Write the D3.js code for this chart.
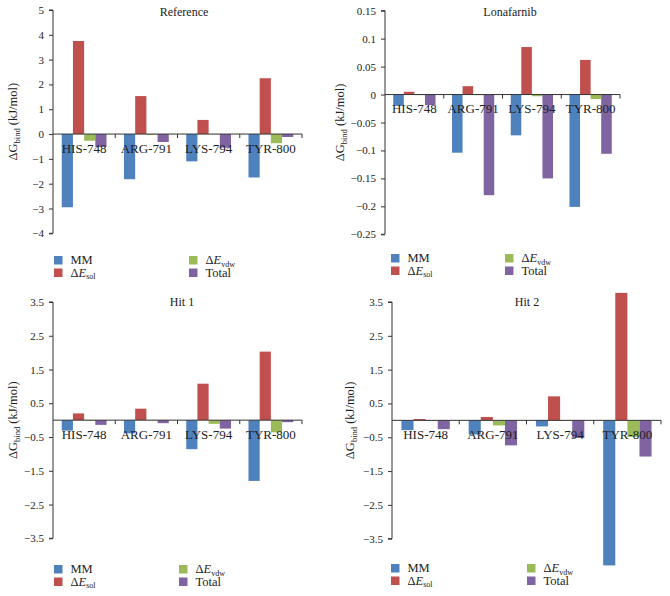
<!DOCTYPE html>
<html>
<head>
<meta charset="utf-8">
<script src="https://cdn.jsdelivr.net/npm/d3@7"></script>
<style>
  html, body { margin: 0; padding: 0; background: #fff; }
  svg { display: block; }
  text { font-family: "Liberation Serif", "DejaVu Serif", serif; fill: #222; }
</style>
</head>
<body>
<script>
// ---------- DATA ----------
const categories = ["HIS-748", "ARG-791", "LYS-794", "TYR-800"];
const seriesKeys = ["MM", "Esol", "Evdw", "Total"];
const seriesColors = ["#4F81BD", "#C0504D", "#9BBB59", "#8064A2"];

// Reference
const refMM    = [-2.95, -1.82, -1.10, -1.75];
const refSol   = [ 3.75,  1.53,  0.57,  2.25];
const refVdw   = [-0.27, -0.03, -0.01, -0.37];
const refTotal = [-0.52, -0.32, -0.55, -0.12];

// Lonafarnib
const lonMM    = [-0.020, -0.104, -0.073, -0.201];
const lonSol   = [ 0.005,  0.015,  0.085,  0.062];
const lonVdw   = [-0.001, -0.001, -0.003, -0.008];
const lonTotal = [-0.019, -0.180, -0.150, -0.106];

// Hit 1
const hit1MM    = [-0.31, -0.39, -0.86, -1.80];
const hit1Sol   = [ 0.20,  0.34,  1.08,  2.03];
const hit1Vdw   = [-0.02, -0.01, -0.11, -0.36];
const hit1Total = [-0.14, -0.09, -0.25, -0.06];

// Hit 2
const hit2MM    = [-0.29, -0.42, -0.18, -4.29];
const hit2Sol   = [ 0.04,  0.10,  0.71,  3.77];
const hit2Vdw   = [-0.02, -0.15, -0.02, -0.49];
const hit2Total = [-0.26, -0.74, -0.52, -1.07];

const refTicks  = [5, 4, 3, 2, 1, 0, -1, -2, -3, -4];
const lonTicks  = [0.15, 0.1, 0.05, 0, -0.05, -0.1, -0.15, -0.2, -0.25];
const hitTicks  = [3.5, 2.5, 1.5, 0.5, -0.5, -1.5, -2.5, -3.5];

// ---------- LAYOUT ----------
const W = 670, H = 596;
const svg = d3.select("body").append("svg").attr("width", W).attr("height", H);

const panels = [
  { title: "Reference", data: [refMM, refSol, refVdw, refTotal], ticks: refTicks,
    domain: [-4, 5], ax: 53, xEnd: 302, yTopPx: 10, yBotPx: 233.3,
    titleX: 184, titleY: 16, labX: 17, legX: 54, legX2: 189, legY: 256 },
  { title: "Lonafarnib", data: [lonMM, lonSol, lonVdw, lonTotal], ticks: lonTicks,
    domain: [-0.25, 0.15], ax: 385, xEnd: 620, yTopPx: 10.7, yBotPx: 234.3,
    titleX: 510, titleY: 16, labX: 344, legX: 391, legX2: 505, legY: 254 },
  { title: "Hit 1", data: [hit1MM, hit1Sol, hit1Vdw, hit1Total], ticks: hitTicks,
    domain: [-3.5, 3.5], ax: 53, xEnd: 302, yTopPx: 302, yBotPx: 538.3,
    titleX: 182, titleY: 306, labX: 17, legX: 54, legX2: 179, legY: 565 },
  { title: "Hit 2", data: [hit2MM, hit2Sol, hit2Vdw, hit2Total], ticks: hitTicks,
    domain: [-3.5, 3.5], ax: 392, xEnd: 661, yTopPx: 302, yBotPx: 538.7,
    titleX: 527, titleY: 306, labX: 354, legX: 391, legX2: 527, legY: 564 }
];

function fmt(v) {
  const s = String(+v.toFixed(3));
  return v < 0 ? "\u2212" + s.slice(1) : s;
}

panels.forEach(p => {
  const g = svg.append("g");
  const y = d3.scaleLinear().domain(p.domain).range([p.yBotPx, p.yTopPx]);
  const x0 = d3.scaleBand().domain(categories).range([p.ax, p.xEnd]).padding(0);
  const x1 = d3.scaleBand().domain(seriesKeys).range([0, x0.bandwidth()])
    .paddingInner(0).paddingOuter(0.78);
  const y0 = y(0);

  // bars
  categories.forEach((c, ci) => {
    seriesKeys.forEach((k, si) => {
      const v = p.data[si][ci];
      g.append("rect")
        .attr("x", x0(c) + x1(k))
        .attr("y", Math.min(y(v), y0))
        .attr("width", x1.bandwidth())
        .attr("height", Math.abs(y(v) - y0))
        .attr("fill", seriesColors[si]);
    });
  });

  // y axis
  const yAxis = d3.axisLeft(y).tickValues(p.ticks).tickSize(4).tickPadding(5).tickFormat(fmt);
  const ya = g.append("g").attr("transform", `translate(${p.ax},0)`).call(yAxis);
  ya.select(".domain").attr("stroke", "#333").attr("d", `M-4,${p.yTopPx}H0V${p.yBotPx}H-4`);
  ya.selectAll(".tick line").attr("stroke", "#333");
  ya.selectAll(".tick text").attr("font-size", 11).attr("fill", "#222")
    .style("font-family", '"Liberation Serif", serif');

  // x axis line at zero with category ticks
  g.append("line").attr("x1", p.ax).attr("x2", p.xEnd).attr("y1", y0).attr("y2", y0)
    .attr("stroke", "#333");
  categories.forEach(c => {
    const xe = x0(c) + x0.bandwidth();
    g.append("line").attr("x1", xe).attr("x2", xe).attr("y1", y0).attr("y2", y0 + 4)
      .attr("stroke", "#333");
    g.append("text").attr("x", x0(c) + x0.bandwidth() / 2).attr("y", y0 + 18.5)
      .attr("text-anchor", "middle").attr("font-size", 13).text(c);
  });

  // title
  g.append("text").attr("x", p.titleX).attr("y", p.titleY).attr("text-anchor", "middle")
    .attr("font-size", 12).text(p.title);

  // y label
  const cy = (p.yTopPx + p.yBotPx) / 2;
  const lab = g.append("text")
    .attr("transform", `translate(${p.labX},${cy}) rotate(-90)`)
    .attr("text-anchor", "middle").attr("font-size", 12.5);
  lab.append("tspan").text("\u0394G");
  lab.append("tspan").attr("font-size", 8.5).attr("dy", 3).text("bind");
  lab.append("tspan").attr("dy", -3).text(" (kJ/mol)");

  // legend
  const legItems = [
    { k: 0, x: p.legX,  y: p.legY },
    { k: 1, x: p.legX,  y: p.legY + 12.5 },
    { k: 2, x: p.legX2, y: p.legY },
    { k: 3, x: p.legX2, y: p.legY + 12.5 }
  ];
  legItems.forEach(it => {
    g.append("rect").attr("x", it.x).attr("y", it.y).attr("width", 8.5).attr("height", 8.5)
      .attr("fill", seriesColors[it.k]);
    const t = g.append("text").attr("x", it.x + 16.5).attr("y", it.y + 8).attr("font-size", 12.5);
    if (it.k === 0) t.text("MM");
    else if (it.k === 3) t.text("Total");
    else {
      t.append("tspan").text("\u0394");
      t.append("tspan").attr("font-style", "italic").text("E");
      t.append("tspan").attr("font-size", 8).attr("dy", 2.5).text(it.k === 1 ? "sol" : "vdw");
    }
  });
});
</script>
</body>
</html>
